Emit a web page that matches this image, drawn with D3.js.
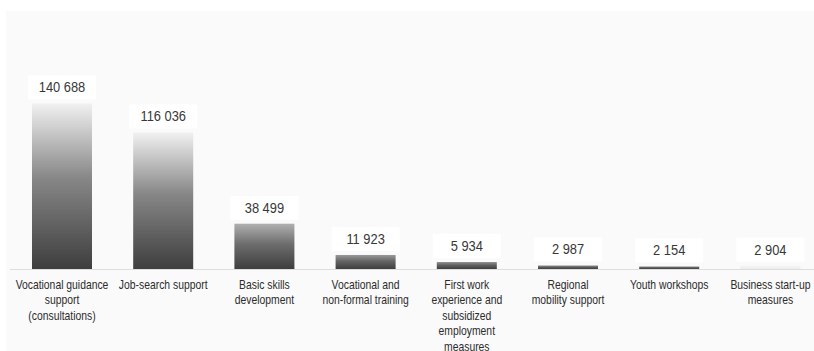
<!DOCTYPE html>
<html>
<head>
<meta charset="utf-8">
<script src="https://cdn.jsdelivr.net/npm/d3@7"></script>
<style>
  html, body { margin: 0; padding: 0; background: #ffffff; }
  svg { display: block; }
</style>
</head>
<body>
<svg id="chart" width="814" height="351"></svg>
<script>
// Participants by type of active labour-market measure
const categories = [
  "Vocational guidance\nsupport\n(consultations)",
  "Job-search support",
  "Basic skills\ndevelopment",
  "Vocational  and\nnon-formal training",
  "First work\nexperience and\nsubsidized\nemployment\nmeasures",
  "Regional\nmobility support",
  "Youth workshops",
  "Business start-up\nmeasures"
];
const participants = [140688, 116036, 38499, 11923, 5934, 2987, 2154, 2904];
const valueLabels = ["140 688", "116 036", "38 499", "11 923", "5 934", "2 987", "2 154", "2 904"];

const W = 814, H = 351;
const baseY = 269;

const svg = d3.select("#chart");

// light panel behind the plot
svg.append("rect")
  .attr("x", 6).attr("y", 11)
  .attr("width", W - 6).attr("height", H - 11)
  .attr("fill", "#fafafa");

const x = d3.scaleBand()
  .domain(d3.range(categories.length))
  .range([11.4, 821])
  .paddingInner(0.407)
  .paddingOuter(0.2035);

const y = d3.scaleLinear()
  .domain([0, 150000])
  .range([baseY, 92.5]);

// shading: taller bars start lighter at the top
const topShade = d3.scaleLinear().domain([0, 130]).range([0, 1]).clamp(true);
const defs = svg.append("defs");
participants.forEach((v, i) => {
  const h = baseY - y(v);
  const top = d3.interpolateRgb("#8e8e8e", "#f1f1f1")(topShade(h));
  const mid = d3.interpolateRgb(top, "#404040")(0.6);
  const g = defs.append("linearGradient")
    .attr("id", "barGrad" + i)
    .attr("x1", 0).attr("y1", 0).attr("x2", 0).attr("y2", 1);
  g.append("stop").attr("offset", 0).attr("stop-color", i === 7 ? "#f6f6f6" : top);
  g.append("stop").attr("offset", 0.45).attr("stop-color", i === 7 ? "#f1f1f1" : mid);
  g.append("stop").attr("offset", 1).attr("stop-color", i === 7 ? "#ececec" : "#3e3e3e");
});

// baseline
svg.append("line")
  .attr("x1", 10).attr("x2", W)
  .attr("y1", baseY + 0.5).attr("y2", baseY + 0.5)
  .attr("stroke", "#dddddd")
  .attr("stroke-width", 1);

// bars
svg.append("g")
  .selectAll("rect")
  .data(participants)
  .join("rect")
  .attr("x", (d, i) => x(i))
  .attr("y", d => y(d))
  .attr("width", x.bandwidth())
  .attr("height", d => baseY - y(d))
  .attr("fill", (d, i) => `url(#barGrad${i})`);

// value labels with white backing
const vl = svg.append("g")
  .selectAll("g")
  .data(participants)
  .join("g")
  .attr("transform", (d, i) => `translate(${x(i) + x.bandwidth() / 2},${y(d) - 11})`);

vl.append("rect")
  .attr("x", -34).attr("y", -17)
  .attr("width", 68).attr("height", 24)
  .attr("fill", "#ffffff");

vl.append("text")
  .attr("text-anchor", "middle")
  .attr("font-family", "'Liberation Sans', Arial, sans-serif")
  .attr("font-size", 14)
  .attr("fill", "#383838")
  .attr("transform", "scale(0.92,1)")
  .text((d, i) => valueLabels[i]);

// category labels (condensed horizontally)
const cl = svg.append("g")
  .selectAll("text")
  .data(categories)
  .join("text")
  .attr("text-anchor", "middle")
  .attr("font-family", "'Liberation Sans', Arial, sans-serif")
  .attr("font-size", 12.5)
  .attr("fill", "#2c2c2c")
  .attr("transform", (d, i) => `translate(${x(i) + x.bandwidth() / 2},289) scale(0.83,1)`);

cl.selectAll("tspan")
  .data(d => d.split("\n"))
  .join("tspan")
  .attr("x", 0)
  .attr("dy", (d, j) => j === 0 ? 0 : 15.5)
  .text(d => d);
</script>
</body>
</html>
